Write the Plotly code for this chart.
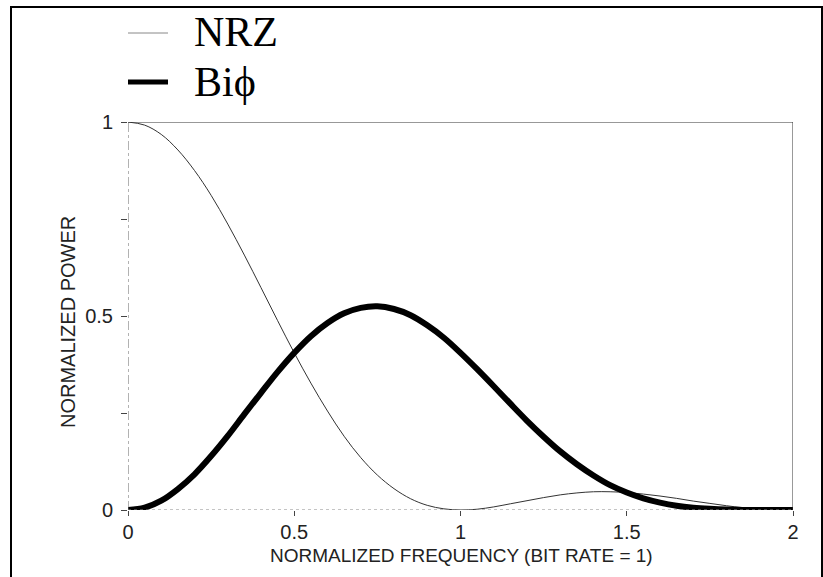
import plotly.graph_objects as go

# Normalized frequency (bit rate = 1)
freq = [0.00, 0.05, 0.10, 0.15, 0.20, 0.25, 0.30, 0.35, 0.40, 0.45,
        0.50, 0.55, 0.60, 0.65, 0.70, 0.75, 0.80, 0.85, 0.90, 0.95,
        1.00, 1.05, 1.10, 1.15, 1.20, 1.25, 1.30, 1.35, 1.40, 1.45,
        1.50, 1.55, 1.60, 1.65, 1.70, 1.75, 1.80, 1.85, 1.90, 1.95, 2.00]

# Normalized power, NRZ (thin curve)
nrz = [1.000, 0.992, 0.968, 0.928, 0.875, 0.811, 0.737, 0.657, 0.573, 0.488,
       0.405, 0.327, 0.255, 0.190, 0.135, 0.090, 0.055, 0.029, 0.012, 0.003,
       0.000, 0.002, 0.008, 0.016, 0.024, 0.032, 0.039, 0.044, 0.047, 0.047,
       0.045, 0.041, 0.036, 0.030, 0.023, 0.017, 0.011, 0.006, 0.003, 0.001, 0.000]

# Normalized power, Bi-phase (thick curve)
biphase = [0.000, 0.006, 0.024, 0.054, 0.092, 0.139, 0.191, 0.247, 0.302, 0.356,
           0.405, 0.448, 0.482, 0.507, 0.521, 0.525, 0.518, 0.502, 0.476, 0.444,
           0.405, 0.363, 0.319, 0.274, 0.230, 0.189, 0.151, 0.118, 0.089, 0.064,
           0.045, 0.030, 0.019, 0.011, 0.006, 0.003, 0.001, 0.000, 0.000, 0.000, 0.000]

x_ticks = [0, 0.5, 1, 1.5, 2]
x_ticktext = ["0", "0.5", "1", "1.5", "2"]
y_ticks = [0, 0.25, 0.5, 0.75, 1]
y_ticktext = ["0", "", "0.5", "", "1"]

series_names = ["NRZ", "Biϕ"]
x_title = "NORMALIZED FREQUENCY (BIT RATE = 1)"
y_title = "NORMALIZED POWER"

W, H = 823, 577
L, R, T, B = 128, 30, 122, 67
pw, ph = W - L - R, H - T - B

def px(xpix):
    return (xpix - L) / pw

def py(ypix):
    return (H - B - ypix) / ph

fig = go.Figure()
fig.add_trace(go.Scatter(x=freq, y=nrz, mode="lines", name=series_names[0],
                         line=dict(color="#333333", width=1, shape="spline"),
                         showlegend=False, hoverinfo="skip"))
fig.add_trace(go.Scatter(x=freq, y=biphase, mode="lines", name=series_names[1],
                         line=dict(color="#000000", width=6, shape="spline"),
                         showlegend=False, hoverinfo="skip"))

sans = "Liberation Sans, Arial, sans-serif"
tick_font = dict(family=sans, size=20, color="#222222")

fig.update_layout(
    width=W, height=H,
    margin=dict(l=L, r=R, t=T, b=B, pad=0),
    paper_bgcolor="white", plot_bgcolor="white",
    xaxis=dict(range=[0, 2], tickvals=x_ticks, ticktext=x_ticktext,
               ticks="outside", ticklen=5, tickcolor="#444444", tickwidth=1,
               ticklabelstandoff=-1,
               showgrid=False, zeroline=False, showline=False,
               tickfont=tick_font, fixedrange=True),
    yaxis=dict(range=[0, 1], tickvals=y_ticks, ticktext=y_ticktext,
               ticks="outside", ticklen=6, tickcolor="#444444", tickwidth=1,
               ticklabelstandoff=4,
               showgrid=False, zeroline=False, showline=False,
               tickfont=tick_font, fixedrange=True),
)

shapes = [
    # plot frame
    dict(type="line", xref="x", yref="y", x0=0, x1=2, y0=1, y1=1,
         line=dict(color="#333333", width=1)),
    dict(type="line", xref="x", yref="y", x0=2, x1=2, y0=0, y1=1,
         line=dict(color="#333333", width=1)),
    dict(type="line", xref="x", yref="y", x0=0, x1=0, y0=0, y1=1,
         line=dict(color="#666666", width=1, dash="dashdot")),
    dict(type="line", xref="x", yref="y", x0=0, x1=2, y0=0, y1=0,
         line=dict(color="#888888", width=1, dash="dot")),
    # outer border
    dict(type="rect", xref="paper", yref="paper",
         x0=px(11), x1=px(822), y0=py(590), y1=py(7),
         line=dict(color="black", width=2), fillcolor="rgba(0,0,0,0)"),
    # legend samples
    dict(type="line", xref="paper", yref="paper",
         x0=px(128), x1=px(168), y0=py(33), y1=py(33),
         line=dict(color="#888888", width=1)),
    dict(type="line", xref="paper", yref="paper",
         x0=px(128), x1=px(168), y0=py(82), y1=py(82),
         line=dict(color="black", width=5)),
]
fig.update_layout(shapes=shapes)

legend_font = dict(family="Liberation Serif, Times New Roman, serif", size=42, color="black")
fig.add_annotation(xref="paper", yref="paper", x=px(192), y=py(32),
                   xanchor="left", yanchor="middle", text=series_names[0],
                   showarrow=False, font=legend_font)
fig.add_annotation(xref="paper", yref="paper", x=px(192), y=py(82),
                   xanchor="left", yanchor="middle", text=series_names[1],
                   showarrow=False, font=legend_font)

# axis titles
fig.add_annotation(xref="paper", yref="paper", x=px(461), y=py(555),
                   xanchor="center", yanchor="middle", text=x_title,
                   showarrow=False, font=dict(family=sans, size=19, color="#222222"))
fig.add_annotation(xref="paper", yref="paper", x=px(68), y=py(322),
                   xanchor="center", yanchor="middle", text=y_title, textangle=-90,
                   showarrow=False, font=dict(family=sans, size=20, color="#222222"))

fig.write_html("out.html",
               config={"displayModeBar": False, "staticPlot": True},
               post_script="document.body.style.margin='0';document.body.style.overflow='hidden';")
